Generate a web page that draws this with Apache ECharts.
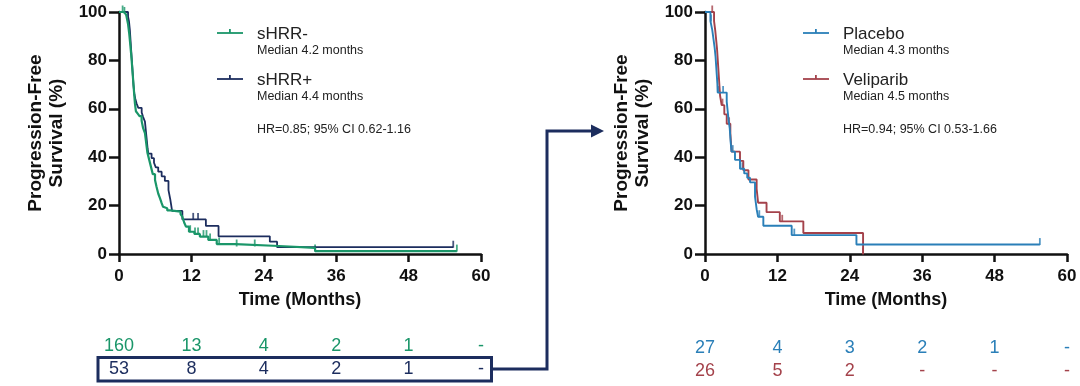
<!DOCTYPE html>
<html><head><meta charset="utf-8">
<script src="https://cdn.jsdelivr.net/npm/echarts@6/dist/echarts.min.js"></script>
<style>html,body{margin:0;padding:0;background:#fff}#c{width:1080px;height:386px}</style>
</head><body><div id="c"></div>
<script>
const FONT = '"Liberation Sans", Arial, sans-serif';

// ---- Left panel: sHRR- vs sHRR+ (Kaplan-Meier steps: [month, % PFS]) ----
const hrrNegSteps = [[0,100],[0.9,99.4],[1.2,98.7],[1.5,95],[1.7,91],[1.85,87],[2.0,83],[2.1,80],[2.25,75],[2.4,70],[2.55,65],[2.65,62],[2.8,59],[3.1,58],[3.4,57],[3.75,55],[4.0,52],[4.3,50],[4.5,46],[4.7,42],[5.0,39],[5.3,36],[5.6,33],[5.97,30.6],[6.2,28],[6.5,25],[6.8,23],[7.07,21],[7.3,19.5],[7.6,18.9],[8.0,18],[8.5,17.5],[10.2,16.5],[10.5,15.4],[10.8,13],[11.1,11.3],[11.6,9.2],[12.5,8.3],[13.4,7.2],[14.8,5.8],[16.2,4.1],[19.3,3.3],[26.5,2.5],[32.5,1.2],[56,1.2]];
const hrrNegCensor = [[0.6,100],[0.9,99.4],[11.8,9.2],[12.6,8.3],[13.1,8.3],[14.0,7.2],[14.5,7.2],[15.1,5.8],[16.6,4.1],[19.5,3.3],[22.5,3.3],[32.5,1.2],[56,1.2]];
const hrrPosSteps = [[0,100],[1.5,98.1],[1.65,96.2],[1.8,92.5],[1.9,88.7],[2.0,84.9],[2.1,81.1],[2.2,77.4],[2.3,73.6],[2.4,69.8],[2.55,66.0],[2.7,64.2],[2.9,62.3],[3.2,60.4],[3.76,58.5],[4.0,56.6],[4.3,54.7],[4.45,50.9],[4.6,47.2],[4.75,43.4],[4.86,41.5],[5.4,39.6],[5.8,37.7],[6.1,35.8],[6.5,34.0],[7.07,32.1],[7.6,30.2],[8.2,26.4],[8.5,22.6],[8.8,17.8],[10.5,14.3],[14.4,11.6],[16.5,7.3],[25.0,5.1],[26.2,2.8],[55.4,2.8]];
const hrrPosCensor = [[12.3,14.3],[13.1,14.3],[55.4,2.8]];

// ---- Right panel: Placebo vs Veliparib ----
const placeboSteps = [[0,100],[0.9,96.3],[1.2,92.6],[1.4,88.9],[1.6,85.2],[1.75,81.5],[1.85,77.8],[1.95,74.1],[2.05,70.4],[2.1,66.7],[3.6,63.0],[3.75,59.3],[3.9,55.6],[4.1,51.9],[4.25,46.3],[4.4,42.3],[4.97,38.9],[5.8,35.2],[6.5,33.3],[7.0,31.5],[7.46,29.6],[8.29,23.7],[8.56,18.5],[8.8,15.4],[9.67,11.7],[14.37,7.8],[25.1,3.9],[55.5,3.9]];
const placeboCensor = [[1.0,96.3],[2.3,66.7],[3.0,66.7],[4.6,42.3],[6.2,35.2],[9.0,15.4],[14.8,7.8],[55.5,3.9]];
const velipSteps = [[0,100],[1.5,96.2],[1.7,92.3],[1.85,88.5],[2.0,84.6],[2.1,80.8],[2.2,76.9],[2.3,73.1],[2.4,69.2],[2.5,65.4],[2.76,61.5],[3.2,57.7],[3.6,53.8],[4.2,50.0],[4.4,42.3],[5.8,38.5],[6.35,34.6],[7.2,30.8],[8.56,26.9],[8.8,21.2],[10.2,17.3],[12.4,13.5],[16.3,8.7],[26.2,0]];
const velipCensor = [[1.2,100],[2.9,61.5],[4.0,53.8],[12.8,13.5],[26.2,0]];

// ---- Numbers at risk ----
const riskTimes = [0, 12, 24, 36, 48, 60];
const riskHrrNeg = ['160','13','4','2','1','-'];
const riskHrrPos = ['53','8','4','2','1','-'];
const riskPlacebo = ['27','4','3','2','1','-'];
const riskVelip = ['26','5','2','-','-','-'];

// ---- Legend texts ----
const leftLegend = [{name:'sHRR-', median:'Median 4.2 months'},{name:'sHRR+', median:'Median 4.4 months'}];
const rightLegend = [{name:'Placebo', median:'Median 4.3 months'},{name:'Veliparib', median:'Median 4.5 months'}];
const leftHR = 'HR=0.85; 95% CI 0.62-1.16';
const rightHR = 'HR=0.94; 95% CI 0.53-1.66';

const C_GREEN = '#1a9669', C_NAVY = '#1c2d5e', C_BLUE = '#2a7fb8', C_RED = '#a4424b';
const AX = '#111';

function plotX(i){ return {gridIndex:i, type:'value', min:0, max:60, interval:12,
  axisLine:{show:true, onZero:false, lineStyle:{color:AX, width:2.5}},
  axisTick:{show:true, length:8, lineStyle:{color:AX, width:2.5}},
  axisLabel:{color:AX, fontFamily:FONT, fontWeight:'bold', fontSize:17, margin:14},
  splitLine:{show:false},
  name:'Time (Months)', nameLocation:'middle', nameGap:37,
  nameTextStyle:{color:AX, fontFamily:FONT, fontWeight:'bold', fontSize:18}}; }
function plotY(i){ return {gridIndex:i, type:'value', min:0, max:100, interval:20,
  axisLine:{show:true, onZero:false, lineStyle:{color:AX, width:2.5}},
  axisTick:{show:true, length:10, lineStyle:{color:AX, width:2.5}},
  axisLabel:{color:AX, fontFamily:FONT, fontWeight:'bold', fontSize:17, margin:12},
  splitLine:{show:false},
  name:'Progression-Free\nSurvival (%)', nameLocation:'middle', nameGap:52, nameRotate:90,
  nameTextStyle:{color:AX, fontFamily:FONT, fontWeight:'bold', fontSize:19, lineHeight:21}}; }
function riskX(i){ return {gridIndex:i, type:'value', min:0, max:60, show:false}; }
function riskY(i){ return {gridIndex:i, type:'category', data:['a','b'], inverse:true, show:false}; }

function kmLine(data, color, xi, w){ return {type:'line', xAxisIndex:xi, yAxisIndex:xi, data:data, step:'end',
  symbol:'none', lineStyle:{color:color, width:w}, itemStyle:{color:color}, clip:false, silent:true}; }
function censor(data, color, xi){ return {type:'scatter', xAxisIndex:xi, yAxisIndex:xi, data:data,
  symbol:'rect', symbolSize:[1.8,7], symbolOffset:[0,-3], itemStyle:{color:color}, clip:false, silent:true}; }
function riskRow(values, row, color, xi){ return {type:'scatter', xAxisIndex:xi, yAxisIndex:xi,
  data: riskTimes.map((t,k)=>[t, row, values[k]]), symbolSize:0, itemStyle:{color:color}, silent:true,
  label:{show:true, position:'inside', formatter:p=>p.value[2], color:color, opacity:1,
    textBorderWidth:0, fontFamily:FONT, fontSize:18}}; }

function legendGraphics(items, colors, iconX, textX, hr){
  const g = [];
  const ys = [33, 79];
  items.forEach((it, k)=>{
    const y = ys[k];
    g.push({type:'line', shape:{x1:iconX, y1:y, x2:iconX+26, y2:y}, style:{stroke:colors[k], lineWidth:1.8}});
    g.push({type:'rect', shape:{x:iconX+12, y:y-4, width:1.8, height:4}, style:{fill:colors[k]}});
    g.push({type:'text', x:textX, y:y+1, style:{text:it.name, font:'17px '+FONT, fill:'#222', verticalAlign:'middle'}});
    g.push({type:'text', x:textX, y:y+17.5, style:{text:it.median, font:'12.5px '+FONT, fill:'#222', verticalAlign:'middle'}});
  });
  g.push({type:'text', x:textX, y:129.5, style:{text:hr, font:'12.5px '+FONT, fill:'#222', verticalAlign:'middle'}});
  return g;
}

const graphic = [].concat(
  legendGraphics(leftLegend, [C_GREEN, C_NAVY], 217, 257, leftHR),
  legendGraphics(rightLegend, [C_BLUE, C_RED], 803, 843, rightHR),
  [
    {type:'rect', shape:{x:98, y:357.5, width:393.5, height:23.5}, style:{fill:'none', stroke:C_NAVY, lineWidth:3}},
    {type:'polyline', shape:{points:[[492,369],[547,369],[547,131],[593,131]]}, style:{fill:'none', stroke:C_NAVY, lineWidth:3}},
    {type:'polygon', shape:{points:[[591,124.5],[604,131],[591,137.5]]}, style:{fill:C_NAVY}}
  ]
);

const option = {
  backgroundColor:'#fff',
  animation:false,
  grid:[
    {left:119, top:12, width:362, height:242},
    {left:705, top:12, width:362, height:242},
    {left:119, top:335, width:362, height:46},
    {left:705, top:336.5, width:362, height:46}
  ],
  xAxis:[plotX(0), plotX(1), riskX(2), riskX(3)],
  yAxis:[plotY(0), plotY(1), riskY(2), riskY(3)],
  series:[
    kmLine(hrrPosSteps, C_NAVY, 0, 1.8),
    kmLine(hrrNegSteps, C_GREEN, 0, 2.2),
    censor(hrrPosCensor, C_NAVY, 0),
    censor(hrrNegCensor, C_GREEN, 0),
    kmLine(velipSteps, C_RED, 1, 1.9),
    kmLine(placeboSteps, C_BLUE, 1, 1.9),
    censor(velipCensor, C_RED, 1),
    censor(placeboCensor, C_BLUE, 1),
    riskRow(riskHrrNeg, 'a', C_GREEN, 2),
    riskRow(riskHrrPos, 'b', C_NAVY, 2),
    riskRow(riskPlacebo, 'a', C_BLUE, 3),
    riskRow(riskVelip, 'b', C_RED, 3)
  ],
  graphic: graphic
};
const chart = echarts.init(document.getElementById('c'), null, {renderer:'canvas'});
chart.setOption(option);
</script></body></html>
